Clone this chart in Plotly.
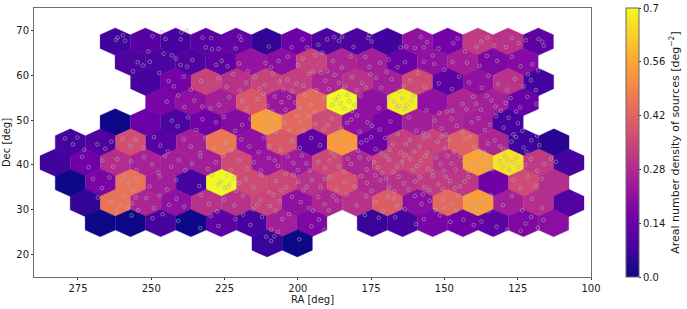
import plotly.graph_objects as go
from plotly.colors import sample_colorscale

# Hexagon rows: declination of the row, RA of the first hexagon, densities (None = empty bin)
row_dec = [67.5, 63.0, 58.5, 54.0, 49.5, 45.0, 40.5, 36.0, 31.5, 27.0, 22.5]
row_first_ra = [262.3, 257.2, 251.9, 246.8, 262.3, 277.6, 282.8, 277.6, 272.5, 267.4, 210.5]
density_0 = [0.07, 0.11, 0.08, 0.11, 0.13, 0.05, 0.15, 0.09, 0.09, 0.07, 0.21, 0.16, 0.32, 0.30, 0.12]
density_1 = [0.09, 0.09, 0.10, 0.12, 0.22, 0.20, 0.34, 0.27, 0.25, 0.14, 0.21, 0.25, 0.18, 0.19]
density_2 = [0.08, 0.16, 0.34, 0.30, 0.34, 0.33, 0.27, 0.30, 0.25, 0.36, 0.12, 0.21, 0.30, 0.08]
density_3 = [0.17, 0.21, 0.25, 0.39, 0.23, 0.43, 0.70, 0.21, 0.68, 0.21, 0.27, 0.25, 0.14]
density_4 = [0.00, 0.14, 0.09, 0.15, 0.19, 0.54, 0.43, 0.36, 0.21, 0.17, 0.25, 0.27, 0.25, 0.08]
density_5 = [0.08, 0.10, 0.37, 0.11, 0.25, 0.46, 0.21, 0.39, 0.12, 0.53, 0.15, 0.33, 0.34, 0.41, 0.27, 0.07, 0.04]
density_6 = [0.07, 0.15, 0.29, 0.26, 0.25, 0.25, 0.36, 0.23, 0.24, 0.35, 0.27, 0.34, 0.35, 0.30, 0.55, 0.66, 0.32, 0.08]
density_7 = [0.00, 0.17, 0.45, 0.25, 0.08, 0.70, 0.36, 0.35, 0.30, 0.38, 0.28, 0.30, 0.32, 0.31, 0.15, 0.36, 0.29]
density_8 = [0.05, 0.45, 0.27, 0.21, 0.30, 0.30, 0.34, 0.21, 0.27, 0.30, 0.40, 0.20, 0.43, 0.54, 0.25, 0.29, 0.10]
density_9 = [0.00, 0.00, 0.08, 0.00, 0.12, 0.08, 0.25, 0.18, None, 0.06, 0.08, 0.17, 0.15, 0.12, 0.18, 0.20]
density_10 = [0.06, 0.00]
density_rows = [density_0, density_1, density_2, density_3, density_4, density_5,
                density_6, density_7, density_8, density_9, density_10]

# Source positions (RA, Dec) estimated by eye
sources_north = [
 (261.5,68.4),(259.7,68.9),(258.9,67.7),(262,67.9),(249.6,68.7),(245.1,68.1),(246.4,69.6),(251,65.3),(239.7,69.6),(237.9,70),
 (240,68),(232.5,68.4),(229.6,68.3),(231.4,66.2),(227,65.9),(229.3,65.8),(219.9,68.7),(219.3,67.9),(221.2,66),(209.9,66.4),
 (202.1,66.2),(198.4,68),(196.9,66.2),(190,68),(187.6,68.5),(186,67.7),(184.9,68.6),(176,68.3),(174.8,67.5),(175.6,69),
 (165,66.2),(163,66.4),(160,66.1),(158.1,68.5),(155.9,67.4),(157,66.2),(147,67.1),(145.5,68.2),(152,66),(137.5,67.5),
 (135.4,68.4),(133,66.6),(139,66.4),(127,68.3),(124.7,67.2),(129,66.3),(122.2,67.8),(117.9,68.1),(116.6,67.5),(116.1,66.6),
 (254.6,62.9),(252.9,62.2),(250.5,63),(256.2,60.9),(245.8,64.8),(243,64.4),(241.6,63.7),(240,62.3),(237.8,61.9),(236,63.4),
 (227.9,62.3),(226,63.2),(224,62),(220,62.6),(211,62.7),(209.1,61.8),(206.6,63.2),(200,62.3),(195,60.8),(198.3,63.7),
 (194.1,64.5),(188,63.2),(185,61.7),(190,60.9),(182,64.2),(177,64.1),(175.6,61.9),(172,62.8),(169,63.5),(166,61.8),
 (163.4,62.9),(157,63),(153.5,62.5),(150,61.2),(147.3,63),(142.3,62.8),(138,62.1),(135.5,64.3),(132,63.2),(127,64.1),
 (124,62),(120,62.5),(118,61.1),(121.5,60.2),(193,66.8),(181,66.3),(154,64.4),(143,65.3),(203.4,64.1),(191.6,65),
 (247.2,60.5),(244.1,58.7),(238.9,59.7),(242.3,57.5),(236.5,56.8),(233,58.7),(227.1,59.3),(224.3,57.4),(222,60.2),(219.8,56.6),
 (217.6,58.4),(214.5,59.6),(211.3,57.9),(208.6,60.4),(205,56.8),(203.7,59),(200.4,58.1),(196.2,60.3),(193.7,56.7),(190.6,58.8),
 (187.4,60.1),(183.9,57.5),(181.5,59.6),(178.2,58.3),(175.3,60.2),(171.6,57.2),(168,59.1),(165.4,56.5),(161.8,58.8),(159.1,60.5),
 (156.7,57.4),(151.9,58.2),(147.5,56.9),(145,59.7),(141.6,58.4),(137.3,57.2),(135,59.9),(131.7,58.1),(128.6,56.8),(126,59.2),
 (123,57.5),(120.5,58.9),(118.8,56.7),(217,60.9),(213.1,57),(206.3,58.6),(202,56.4),
 (198.1,57.7),(192.1,60.6),(189.4,56.9),(186,58.3),(179.9,56.6),(176.8,57.3),(173.2,59.4),(169.7,60.7),(163.9,57.6),
 (244.7,54.1),(240.8,55.5),(238.7,52.9),(235.3,54.4),(232.6,53),(229.8,52.6),(226.9,53.4),(223.4,55.1),(219,54.3),(217.5,52.5),
 (213.8,54.7),(210.4,53.2),(207.9,55.3),(204.2,52.3),(200.8,53.9),(197.5,55.6),(194.3,51.9),(191.1,54.8),(188.3,53.4),(186.2,55.2),
 (184.1,52.6),(182.4,54.2),(180.7,53.3),(178.6,55.4),(172.4,52.7),(169,55.1),(166.2,52.9),(164.4,54.9),(162.8,53.3),(160.6,55.4),
 (156.1,52.2),(151.7,51.6),(149.1,51.9),(147.3,52.1),(143.8,53.6),(140.2,55.2),(137.6,52.3),(134,54.4),(130.7,52.1),(127.4,54.9),
 (124.2,52.8),(121.7,55.2),(118.6,53.6),(211.8,55.9),(208.7,52),(205.6,54),(203,55.1),(199.4,52.7),(195.6,53.5),
 (187.3,54.6),(185.4,53.8),(183.1,55.6),(181.6,52),(167.3,54.1),(165.5,53.2),(163.6,52.5),(161.3,54.3),(142.5,52.4),(139.1,53.6),
 (135.5,55.4),(132.6,53),(129.1,53.8),(125.6,51.9),
 (243,49.9),(241,48.6),(237.5,50.6),(234.6,47.8),(232.5,50.2),(227.9,49.5),(225.2,50.7),(221.4,47.6),(219,48.9),(216.1,50.3),
 (210.2,49),(207.5,47.3),(204.6,49.4),(200.3,51),(197.8,47.6),(194.1,49.2),(191.2,47.9),(188.5,50.4),(185,48.2),(181.8,50.1),
 (178.9,47.4),(176.3,49.5),(172.1,47.9),(168.4,49.7),(165.9,46.9),(162.1,50.6),(159.6,47.6),(157.2,47.1),(155.4,46.5),(151,48.1),
 (147.6,50.3),(143.9,47.2),(140.7,49.5),(136.2,47.8),(132.4,50.9),(129.8,48.3),(126.5,46.8),(123.4,47.6),(118.4,46.5),
 (212.6,50.1),(211.1,47.8),(209.2,50.7),(208.1,48.4),(206,51),(202.8,47.8),(199.1,49.5),(196.3,50.8),(189.9,48.9),(186.7,47.1),
 (183.2,49.4),(179.8,51),(174.7,48.7),(153.3,49.9),(149.6,46.8),(145.8,48.7),(138.4,50.4),(134.5,49),(128.1,50.5),(124.9,49.3),
]
sources_south = [
 (279.4,45.9),(276.7,44.6),(275.2,46.1),(272.8,43.4),(268.4,44.6),(265.7,43.6),(263.6,45.2),(259.7,45.8),(257.1,44.2),(255.3,45.7),
 (252.6,43.7),(249.1,46.2),(246.9,44.3),(244.3,43),(238.9,45.7),(236.5,44.1),(233.4,42.7),(231.5,46),(228.4,43.8),(224.5,44.9),
 (222.7,43.3),(219.3,45.7),(216.5,44.1),(213.4,42.9),(211.5,46.1),(209.6,44.2),(205.8,43.4),(202.1,45.4),(199.3,43.8),(195.4,46),
 (192.4,44.4),(188.6,42.9),(186,45.8),(182,44.1),(179.4,43.2),(176.6,45.5),(173.5,43.5),(170.2,46),(167.6,44.7),(164.8,42.8),
 (161.8,45.6),(158.5,44.1),(155.9,42.7),(152.3,45.2),(149.8,43.7),(146.7,42.9),(143,45.8),(139.8,44),(136.4,42.8),(132.9,45.5),
 (129.8,43.5),(127.1,45.2),(123,43.9),(120.4,45.5),(117.6,44.4),(178.4,45),(175,46.2),(171.7,42.8),(168.7,43.4),(163.1,44.6),
 (160.4,43),(157,46.1),(150.9,46.4),(148.3,45.4),(141.2,46.2),(138.1,43.1),(135.2,44.8),(131,44.1),(125.6,46.2),(122,42.9),
 (273.6,41.8),(271.4,39.5),(266.7,41),(263,39.6),(261.6,41.3),(256.9,40.8),(255.1,38.9),(252.4,41.7),(249.7,40.1),(247.5,38.3),
 (245.3,42),(243.2,39.6),(240.6,41.1),(238.4,38.8),(236.1,40.3),(233.3,41.9),(230.6,39.1),(228,40.6),(225.5,42.1),(222.9,38.8),
 (220.1,41),(217.4,39.2),(214.9,40.6),(212.6,38.7),(209.8,41.5),(206.8,39.8),(204.1,37.9),(201.5,40.4),(198.6,42.1),(195.9,38.8),
 (193,40.7),(190.7,39.3),(187.5,42),(184.2,38.5),(181.9,40.2),(178.9,41.7),(176.5,39),(174,40.6),(171.2,38.2),(168.9,41.2),
 (166.1,39.6),(163.4,42.2),(160.8,38.9),(158.1,40.9),(155.5,39.2),(152.9,41.6),(150.2,38.7),(147.6,40.3),(144.5,42),(141.9,38.6),
 (139.9,40.7),(138.3,39.4),(136.5,41.4),(133.8,39),(131.2,40.9),(129.4,42),(127.8,38.9),(126.6,40.6),(124.8,39.5),(120.5,41.3),
 (118.4,38.7),(116.1,40.2),(113.6,41.4),(111.9,40.7),(135.8,38.9),(134.2,40.3),(130.2,39.6),(128.4,41),(125.4,41.7),(122.6,40),
 (175.8,41.4),(172.7,39.4),(170.1,42),(167.4,38.4),(164.6,40.7),(161.8,41.4),(159.3,39.7),(156.6,41.9),(154.1,38.4),(151.4,40.1),
 (149,42.1),(146.2,39),(143.3,40.8),(189.2,41),(186,39.6),(183,41.4),(207.9,41),(203.5,41.9),(200,38.9),(197.1,40.3),
 (269.9,36.9),(266.8,34.8),(264.3,37.2),(261,36.4),(259.2,37.6),(257.7,35.9),(256.1,34.4),(255,36.8),(250.6,35.2),(247.1,37.4),
 (244.6,34.5),(241.5,36.7),(233.6,35.3),(229.5,37.8),(226.2,36.3),(225,34.9),(223.2,35.8),(222,37),(221,34.2),(217.6,36.9),
 (215.2,35),(212.4,37.6),(209.9,33.9),(207.5,36.4),(203.9,35),(201.4,37.8),(198.1,34.3),(195.2,36.6),(192.3,35.1),(189,37.3),
 (186.6,34.5),(184,36.1),(180.7,35.2),(178.4,37.5),(174.9,34.2),(171.8,36.6),(168.9,35),(165.6,37.4),(162.3,34.5),(160,36.3),
 (156.8,35.1),(153.9,37.6),(150.5,34.6),(148.1,36.4),(144.6,35.2),(141.8,37.3),(126.5,36.7),(124.1,34.8),(121.6,37.4),(118.9,35.4),
 (116.8,36.9),(227.2,35.6),(224.1,37.6),(223.9,35.1),(220,36),(176.4,36),(173.5,37.7),(169.9,37),(167.1,34.1),(163.8,35.9),
 (158.4,37.2),(155.2,34.4),(152.1,35.7),(149.5,37.4),(146.5,34.8),(143,36.3),(205.6,34.3),(199.9,36.2),(197,35.1),(190.8,36.9),
 (268.2,32.7),(263.7,31.7),(262,29.6),(259.4,33),(256.6,31.4),(254.5,29.9),(251.7,32.6),(249.2,30.4),(247.1,33.2),(243.9,31.1),
 (241.4,32.4),(238.8,30.7),(232.9,33.2),(230.3,31.2),(227.5,29.6),(225,32.3),(221.7,31),(218.7,33.1),(215.3,30.1),(212.8,32.2),
 (209.5,30.8),(207.6,29.8),(206.1,31.9),(202,32.9),(196.2,30.4),(193,32.8),(189.4,29.9),(186.7,32.1),(183.4,33.4),(179.9,31),
 (176.7,33),(173.6,31.7),(171,29.7),(167.3,32.5),(163.5,30.1),(160.1,33.1),(157.8,31.3),(153,29.9),(150.4,32.3),(147.6,31.2),
 (145.4,33.2),(140.5,31.5),(139.2,30.2),(137.2,32.5),(135,29.7),(130,31),(127,33.1),(123.5,29.9),(120.2,32.4),(116.7,30.4),
 (141.7,33),(141,30.1),(138.5,31.3),(136,31.6),(134.2,33.2),(150,30.4),(146,29.8),(157.4,33.4),(155,32),(166.1,30.9),
 (169.3,33),(187.9,33.1),(190.9,31.2),(194.8,29.8),(199,31.7),(208.3,33.3),(213.9,31),(258,30.3),(260.7,31.1),(255.3,32.7),
 (256.7,28.7),(249.6,28.1),(246.1,29),(240.8,27.5),(233.3,25.9),(229.7,28.6),(227.1,26.4),(221.3,27.9),(218.6,28.9),(216.2,26.6),
 (212.2,28.4),(209.1,25.6),(205.3,27.9),(203,29),(195.4,26.3),(192.8,27.8),(191,25.5),(177.1,28.8),(172.4,28.2),(166.8,28.3),
 (159.7,26.8),(157,27.9),(151.5,28.8),(148,27.3),(143.5,27.8),(140,26.6),(137.4,27.4),(132.2,26.2),(128.6,25.6),(124,25.3),
 (122.3,26.9),(120.4,28.4),(116.2,27.7),(118.1,26),
 (210.8,24),(209.1,23),(208,24.1),(206.7,25.1),(199.5,23.4),
]

color_ticks = [0.0, 0.14, 0.28, 0.42, 0.56, 0.7]
color_tick_labels = ["0.0", "0.14", "0.28", "0.42", "0.56", "0.7"]
x_ticks = [275, 250, 225, 200, 175, 150, 125, 100]
y_ticks = [70, 60, 50, 40, 30, 20]

HEX_W = 10.31
HEX_R = 3.05
VMAX = 0.7
TEXT = "#1a1a1a"

fig = go.Figure()
for dec, first_ra, values in zip(row_dec, row_first_ra, density_rows):
    for i, v in enumerate(values):
        if v is None:
            continue
        ra = first_ra - i * HEX_W
        w = HEX_W / 2
        r = HEX_R
        color = sample_colorscale("Plasma", [v / VMAX])[0]
        fig.add_trace(go.Scatter(
            x=[ra - w, ra - w, ra, ra + w, ra + w, ra, ra - w],
            y=[dec - r / 2, dec + r / 2, dec + r, dec + r / 2, dec - r / 2, dec - r, dec - r / 2],
            mode="lines", fill="toself", fillcolor=color,
            line=dict(color=color, width=0.3),
            showlegend=False, hoverinfo="text", text=f"{v:.2f}",
        ))

all_sources = sources_north + sources_south
fig.add_trace(go.Scatter(
    x=[p[0] for p in all_sources], y=[p[1] for p in all_sources],
    mode="markers", showlegend=False,
    marker=dict(symbol="circle-open", size=3.6, color="rgba(175,175,175,0.8)", line=dict(width=0.7)),
))

# Colour bar carrier
fig.add_trace(go.Scatter(
    x=[None], y=[None], mode="markers", showlegend=False,
    marker=dict(
        color=[0, VMAX], cmin=0, cmax=VMAX, colorscale="Plasma", showscale=True,
        colorbar=dict(
            x=1.0628, xanchor="left", xpad=0, y=0, yanchor="bottom", ypad=0, len=1, lenmode="fraction",
            thickness=13, thicknessmode="pixels", outlinewidth=1, outlinecolor="#666666",
            tickvals=color_ticks, ticktext=color_tick_labels, ticks="outside", ticklen=2,
            tickwidth=0.7, tickcolor="#333", tickfont=dict(size=10, color=TEXT),
            title=dict(text="Areal number density of sources [deg<sup>−2</sup>]", side="right",
                       font=dict(size=11, color=TEXT)),
        ),
    ),
))

axis = dict(showgrid=False, zeroline=False, mirror=True, showline=True, linecolor="#6e6e6e", linewidth=1,
            ticks="outside", ticklen=2, tickwidth=0.7, tickcolor="#333", tickfont=dict(size=10, color=TEXT))
fig.update_layout(
    width=687, height=309, margin=dict(l=34, r=96, t=8, b=32, autoexpand=False),
    paper_bgcolor="white", plot_bgcolor="white",
    font=dict(family="DejaVu Sans", color=TEXT),
    xaxis=dict(range=[290, 100], tickvals=x_ticks,
               title=dict(text="RA [deg]", font=dict(size=10, color=TEXT), standoff=2), **axis),
    yaxis=dict(range=[15, 75], tickvals=y_ticks,
               title=dict(text="Dec [deg]", font=dict(size=10, color=TEXT), standoff=3), **axis),
)
fig.write_html("out.html", config=dict(displayModeBar=False), post_script="document.body.style.margin='0';")
